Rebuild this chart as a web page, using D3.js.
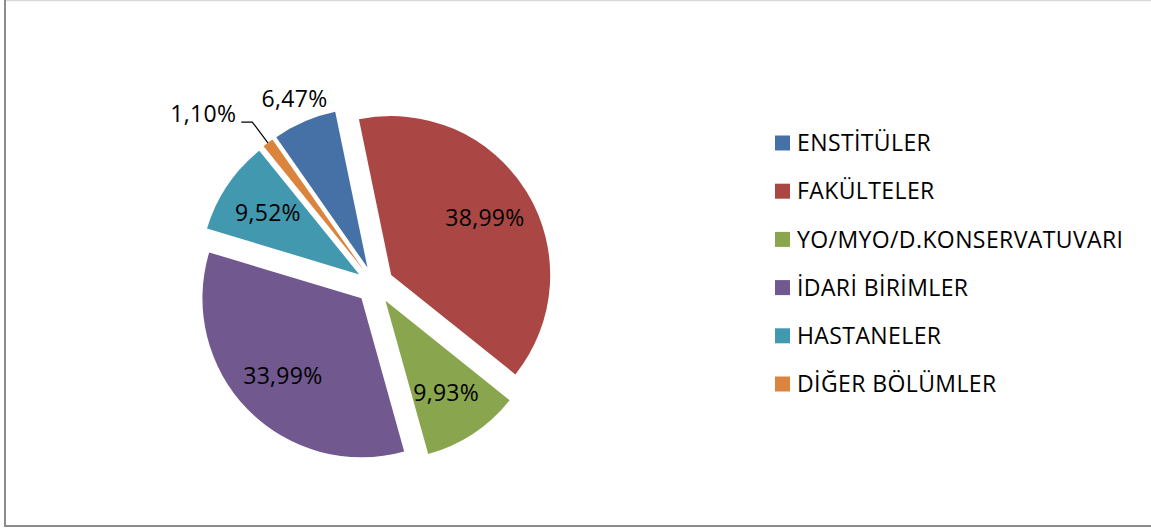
<!DOCTYPE html>
<html>
<head>
<meta charset="utf-8">
<script src="https://cdn.jsdelivr.net/npm/d3@7"></script>
<style>
  html, body { margin: 0; padding: 0; background: #fff; }
  text { font-family: "Open Sans", "Noto Sans", sans-serif; fill: #000; }
</style>
</head>
<body>
<svg id="chart" width="1151" height="528"></svg>
<script>
// chart values
const categories = ["ENSTİTÜLER", "FAKÜLTELER", "YO/MYO/D.KONSERVATUVARI",
                    "İDARİ BİRİMLER", "HASTANELER", "DİĞER BÖLÜMLER"];
const shares = [6.47, 38.99, 9.93, 33.99, 9.52, 1.10];
const colors = ["#4571A7", "#AA4744", "#89A54E", "#71588F", "#4298AF", "#DB843D"];

const svg = d3.select("#chart");

// chart frame: only the top, left and bottom edges show in the original
svg.append("line")
    .attr("x1", 5).attr("x2", 1151).attr("y1", 0.5).attr("y2", 0.5)
    .attr("stroke", "#d9d9d9").attr("stroke-width", 1.5);
svg.append("line")
    .attr("x1", 5).attr("x2", 5).attr("y1", 0).attr("y2", 527)
    .attr("stroke", "#8c8c8c").attr("stroke-width", 2);
svg.append("line")
    .attr("x1", 4).attr("x2", 1151).attr("y1", 526).attr("y2", 526)
    .attr("stroke", "#8c8c8c").attr("stroke-width", 2);

// pie geometry
const cx = 375, cy = 285;
const radius = 159;
const explode = 19;
const firstSlice = -35 * Math.PI / 180; // Excel "first slice angle" of 325°

const pie = d3.pie()
    .sort(null)
    .value(d => d.value)
    .startAngle(firstSlice)
    .endAngle(firstSlice + 2 * Math.PI);

const arc = d3.arc().innerRadius(0).outerRadius(radius);

const data = categories.map((c, i) => ({ name: c, value: shares[i], color: colors[i] }));
const slices = pie(data);

// unit vector pointing along the middle of a slice
function dir(d) {
    let a = (d.startAngle + d.endAngle) / 2;
    return [Math.sin(a), -Math.cos(a)];
}

const fmt = v => v.toFixed(2).replace(".", ",") + "%";

const g = svg.append("g").attr("transform", `translate(${cx},${cy})`);

// each slice pulled out from the centre
const slice = g.selectAll("g.slice")
    .data(slices)
    .enter().append("g")
    .attr("class", "slice")
    .attr("transform", d => {
        let u = dir(d);
        return `translate(${u[0] * explode},${u[1] * explode})`;
    });

slice.append("path")
    .attr("d", arc)
    .attr("fill", d => d.data.color);

// labels: inside for big slices, outside for small ones
slice.each(function(d) {
    let sel = d3.select(this);
    let u = dir(d);
    let label = fmt(d.data.value);
    let text = (x, y, anchor, dy) => sel.append("text")
        .attr("x", x).attr("y", y)
        .attr("text-anchor", anchor)
        .attr("dy", dy)
        .style("font-size", "23px")
        .style("letter-spacing", "0.3px")
        .text(label);

    if (d.data.value >= 8) {
        let lr = 110;
        text(u[0] * lr, u[1] * lr, "middle", "0.36em");
    } else if (d.data.value >= 2) {
        let lr = radius + 25;
        text(u[0] * lr, u[1] * lr, "middle", "0.36em");
    } else {
        // tiny slice gets a leader line out to the left
        let p0 = [u[0] * radius, u[1] * radius];
        let p1 = [u[0] * (radius + 26), u[1] * (radius + 26)];
        let p2 = [p1[0] - 11, p1[1]];
        sel.append("path")
            .attr("d", d3.line()([p0, p1, p2]))
            .attr("fill", "none")
            .attr("stroke", "#000")
            .attr("stroke-width", 1.2);
        text(p2[0] - 5, p2[1], "end", "0em");
    }
});

// legend
const legend = svg.append("g").attr("transform", "translate(775,143)");
const item = legend.selectAll("g")
    .data(data)
    .enter().append("g")
    .attr("transform", (d, i) => `translate(0,${i * 48.2})`);

item.append("rect")
    .attr("x", 0).attr("y", -7.5)
    .attr("width", 15).attr("height", 15)
    .attr("fill", d => d.color);

item.append("text")
    .attr("x", 22).attr("y", 0)
    .attr("dy", "0.36em")
    .style("font-size", "23px")
    .style("letter-spacing", "0.4px")
    .text(d => d.name);
</script>
</body>
</html>
